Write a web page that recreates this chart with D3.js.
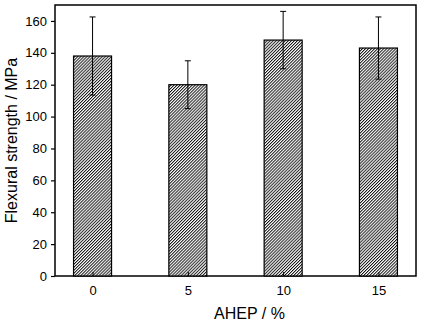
<!DOCTYPE html>
<html>
<head>
<meta charset="utf-8">
<script src="https://cdn.jsdelivr.net/npm/d3@7"></script>
<style>
  html, body { margin: 0; padding: 0; background: #fff; }
  svg { display: block; font-family: "Liberation Sans", Arial, sans-serif; }
</style>
</head>
<body>
<svg id="chart" width="424" height="324"></svg>
<script>
// AHEP content (%) and measured flexural strength (MPa) with standard deviation
const categories = ["0", "5", "10", "15"];
const strength = [138, 120, 148, 143];
const stdDev = [24.5, 15, 18, 19.5];
const yTicks = [0, 20, 40, 60, 80, 100, 120, 140, 160];

const svg = d3.select("#chart");
const margin = { left: 55, right: 8, top: 5, bottom: 48 };
const W = 424, H = 324;
const x0 = margin.left, x1 = W - margin.right;
const y0 = H - margin.bottom, y1 = margin.top;

const x = d3.scalePoint().domain(categories).range([x0, x1]).padding(0.394);
const y = d3.scaleLinear().domain([0, 170]).range([y0, y1]);
const barW = 38;

// diagonal hatch fill
const defs = svg.append("defs");
const pat = defs.append("pattern")
  .attr("id", "hatch")
  .attr("patternUnits", "userSpaceOnUse")
  .attr("width", 2.15).attr("height", 4)
  .attr("patternTransform", "rotate(45)");
pat.append("rect").attr("width", 2.15).attr("height", 4).attr("fill", "#fff");
pat.append("line")
  .attr("x1", 0.5).attr("y1", 0).attr("x2", 0.5).attr("y2", 4)
  .attr("stroke", "#000").attr("stroke-width", 0.9);

// frame
svg.append("rect")
  .attr("x", x0).attr("y", y1)
  .attr("width", x1 - x0).attr("height", y0 - y1)
  .attr("fill", "none").attr("stroke", "#000").attr("stroke-width", 1.5);

// bars
svg.selectAll("rect.bar").data(categories).join("rect")
  .attr("class", "bar")
  .attr("x", d => x(d) - barW / 2)
  .attr("y", (d, i) => y(strength[i]))
  .attr("width", barW)
  .attr("height", (d, i) => y(0) - y(strength[i]))
  .attr("fill", "url(#hatch)")
  .attr("stroke", "#000").attr("stroke-width", 1.2);

// error bars
const eb = svg.selectAll("g.err").data(categories).join("g").attr("class", "err")
  .attr("stroke", "#000").attr("stroke-width", 1);
eb.append("line")
  .attr("x1", d => x(d)).attr("x2", d => x(d))
  .attr("y1", (d, i) => y(strength[i] + stdDev[i]))
  .attr("y2", (d, i) => y(strength[i] - stdDev[i]));
eb.append("line")
  .attr("x1", d => x(d) - 3).attr("x2", d => x(d) + 3)
  .attr("y1", (d, i) => y(strength[i] + stdDev[i]))
  .attr("y2", (d, i) => y(strength[i] + stdDev[i]));
eb.append("line")
  .attr("x1", d => x(d) - 3).attr("x2", d => x(d) + 3)
  .attr("y1", (d, i) => y(strength[i] - stdDev[i]))
  .attr("y2", (d, i) => y(strength[i] - stdDev[i]));

// y axis: outward ticks
const yAxis = svg.append("g")
  .attr("transform", `translate(${x0},0)`)
  .call(d3.axisLeft(y).tickValues(yTicks).tickSize(4).tickPadding(4));
yAxis.select(".domain").remove();
yAxis.selectAll("text").attr("font-size", 13).attr("fill", "#000")
  .attr("font-family", "Liberation Sans, Arial, sans-serif");
yAxis.selectAll("line").attr("stroke-width", 1.2);

// x axis: inward ticks
const xAxis = svg.append("g")
  .attr("transform", `translate(0,${y0})`)
  .call(d3.axisBottom(x).tickSize(-4).tickPadding(10));
xAxis.select(".domain").remove();
xAxis.selectAll("text").attr("font-size", 13).attr("fill", "#000")
  .attr("font-family", "Liberation Sans, Arial, sans-serif");
xAxis.selectAll("line").attr("stroke-width", 1);

// axis titles
svg.append("text")
  .attr("x", (x0 + x1) / 2 + 14).attr("y", 319)
  .attr("text-anchor", "middle").attr("font-size", 16)
  .text("AHEP / %");
svg.append("text")
  .attr("transform", `translate(17,${(y0 + y1) / 2}) rotate(-90)`)
  .attr("text-anchor", "middle").attr("font-size", 16)
  .text("Flexural strength / MPa");
</script>
</body>
</html>
